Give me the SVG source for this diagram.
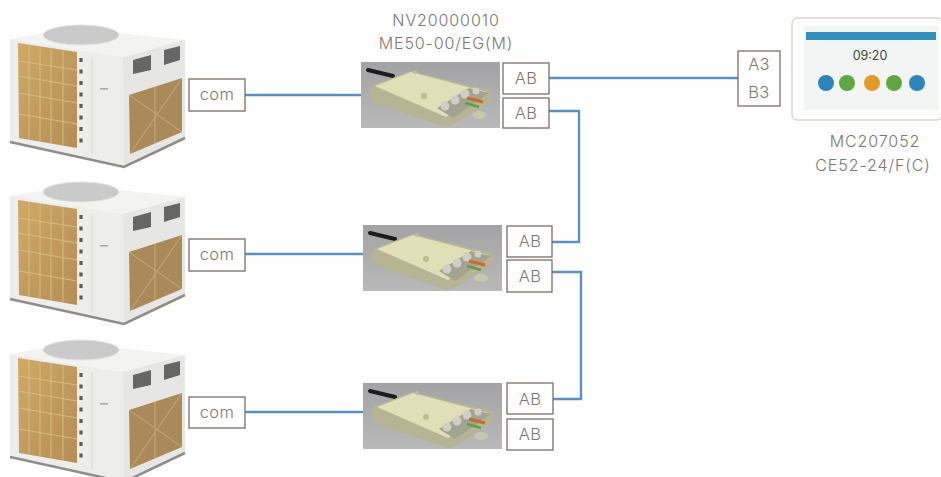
<svg xmlns="http://www.w3.org/2000/svg" width="941" height="477" viewBox="0 0 941 477">
<style>
text{font-family:"Inter","Liberation Sans",sans-serif;font-weight:300;fill:#7d7673;font-size:16px;letter-spacing:.9px;text-anchor:middle}
.box{fill:#fff;stroke:#7c6e6a;stroke-width:1.3}
.wire{fill:none;stroke:#5c8fc6;stroke-width:2.4}
.g{stroke:#d9bf85;stroke-width:.9;fill:none}
.lbl{font-size:16.5px;letter-spacing:.3px}
</style>
<defs>
<filter id="soft" x="-5%" y="-5%" width="110%" height="110%"><feGaussianBlur stdDeviation="0.6"/></filter>
<linearGradient id="bg" x1="0" y1="0" x2="0" y2="1"><stop offset="0" stop-color="#a3a3a5"/><stop offset="1" stop-color="#b9b9b9"/></linearGradient>
<linearGradient id="coil" x1="0" y1="0" x2="1" y2="1"><stop offset="0" stop-color="#cfa964"/><stop offset="1" stop-color="#b48e55"/></linearGradient>
<g id="unit" filter="url(#soft)">
<polygon points="10,39 45,33 120,33 185,40 123,57" fill="#f3f3f2"/>
<ellipse cx="81" cy="35" rx="38" ry="10" fill="#c9cac9" stroke="#e4e4e4"/>
<polygon points="10,39 123,57 124,167 10,142" fill="#ededec"/>
<polygon points="123,57 185,40 185,138 124,167" fill="#e6e6e5"/>
<polygon points="18,43 77,52 77,148 19,138" fill="url(#coil)"/>
<path class="g" d="M18,61 77,70M18,76 77,86M19,93 77,103M19,114 77,124M29,45V140M40,47V142M51,48V144M63,50V146"/>
<path d="M81,58V147" stroke="#5f5a52" stroke-width="3.200" stroke-dasharray="4 7.500" fill="none"/>
<path d="M92,57V155" stroke="#dadad9" fill="none"/>
<rect x="100" y="88" width="8" height="1.5" fill="#aaa"/>
<polygon points="129,95 182,78 182,132 130,154" fill="#a98a58"/>
<path d="M129,95 182,132M182,78 130,154M155,87V143" stroke="#c9ab78" fill="none"/>
<polygon points="133,60 151,55 151,70 133,74" fill="#666"/>
<polygon points="164,50 180,46 180,60 164,65" fill="#666"/>
<path d="M10,142 124,167 185,138" fill="none" stroke="#918c87" stroke-width="2.500"/>
</g>
<g id="ctl" filter="url(#soft)">
<rect width="139" height="66" fill="url(#bg)"/>
<path d="M7,8 32,14" stroke="#1c1c1c" stroke-width="4" stroke-linecap="round"/>
<path d="M12,23 50,9 128,28 Q133,31 130,38 L92,63 Q86,66 78,63 L14,41 Q8,37 9,28Z" fill="#b6b493"/>
<path d="M14,24 50,10 126,30 85,55 Z" fill="#e0dfb8"/>
<polygon points="76,46 108,26 128,31 92,56" fill="#a3a392"/>
<circle cx="84" cy="44" r="4.500" fill="#cfcfc5"/><circle cx="94" cy="38" r="4.500" fill="#cfcfc5"/><circle cx="104" cy="32" r="4.500" fill="#cfcfc5"/><circle cx="115" cy="29" r="3.500" fill="#cfcfc5"/>
<path d="M106,36 122,40" stroke="#d0672a" stroke-width="3"/>
<path d="M104,41 118,45" stroke="#5aa04a" stroke-width="2.500"/>
<ellipse cx="118" cy="53" rx="7" ry="4" fill="#c8c7ac"/>
<circle cx="63" cy="34" r="3" fill="#bdbb98"/><circle cx="54" cy="10" r="2" fill="#bdbb98"/>
</g>
</defs>

<g id="connectors">
<path class="wire" d="M245,95H361"/>
<path class="wire" d="M245,254H363"/>
<path class="wire" d="M245,412H363"/>
<path class="wire" d="M549,78H738"/>
<path class="wire" d="M549,111H579V242H552"/>
<path class="wire" d="M552,272H581V399H553"/>
</g>

<g id="unit1"><use href="#unit"/><rect class="box" x="189" y="79" width="56" height="32"/><text class="lbl" x="217" y="100">com</text></g>
<g id="unit2"><use href="#unit" y="157"/><rect class="box" x="189" y="239" width="56" height="32"/><text class="lbl" x="217" y="260">com</text></g>
<g id="unit3"><use href="#unit" y="315"/><rect class="box" x="189" y="397" width="56" height="31"/><text class="lbl" x="217" y="418">com</text></g>

<g id="ctl1"><use href="#ctl" x="361" y="62"/>
<text x="446" y="26">NV20000010</text><text x="446" y="49">ME50-00/EG(M)</text>
<rect class="box" x="503" y="63" width="46" height="31"/><text class="lbl" x="526" y="84">AB</text>
<rect class="box" x="503" y="98" width="46" height="30"/><text class="lbl" x="526" y="119">AB</text></g>
<g id="ctl2"><use href="#ctl" x="363" y="225"/>
<rect class="box" x="507" y="226" width="45" height="31"/><text class="lbl" x="530" y="247">AB</text>
<rect class="box" x="507" y="260" width="45" height="32"/><text class="lbl" x="530" y="282">AB</text></g>
<g id="ctl3"><use href="#ctl" x="363" y="383"/>
<rect class="box" x="507" y="383" width="46" height="31"/><text class="lbl" x="530" y="405">AB</text>
<rect class="box" x="507" y="419" width="46" height="31"/><text class="lbl" x="530" y="440">AB</text></g>

<g id="panel">
<rect class="box" x="738" y="51" width="42" height="55"/>
<text class="lbl" x="759" y="70">A3</text><text class="lbl" x="759" y="98">B3</text>
<g filter="url(#soft)">
<rect x="792" y="18" width="150" height="102" rx="5" fill="#fdfdfc" stroke="#c9bfb8"/>
<rect x="804" y="26" width="134" height="84" fill="#f3f5f5"/>
<rect x="806" y="32" width="130" height="8" fill="#2f8fc0"/>
<circle cx="826" cy="83" r="8" fill="#2a86bd"/><circle cx="847" cy="83" r="8" fill="#5fa83f"/><circle cx="872" cy="83" r="8" fill="#e49a26"/><circle cx="894" cy="83" r="8" fill="#5fa83f"/><circle cx="917" cy="83" r="8" fill="#2a86bd"/>
</g>
<text x="870" y="60" style="font-size:12.500px;font-weight:400;letter-spacing:0;fill:#444">09:20</text>
<text x="875" y="147">MC207052</text><text x="873" y="171">CE52-24/F(C)</text>
</g>
</svg>
